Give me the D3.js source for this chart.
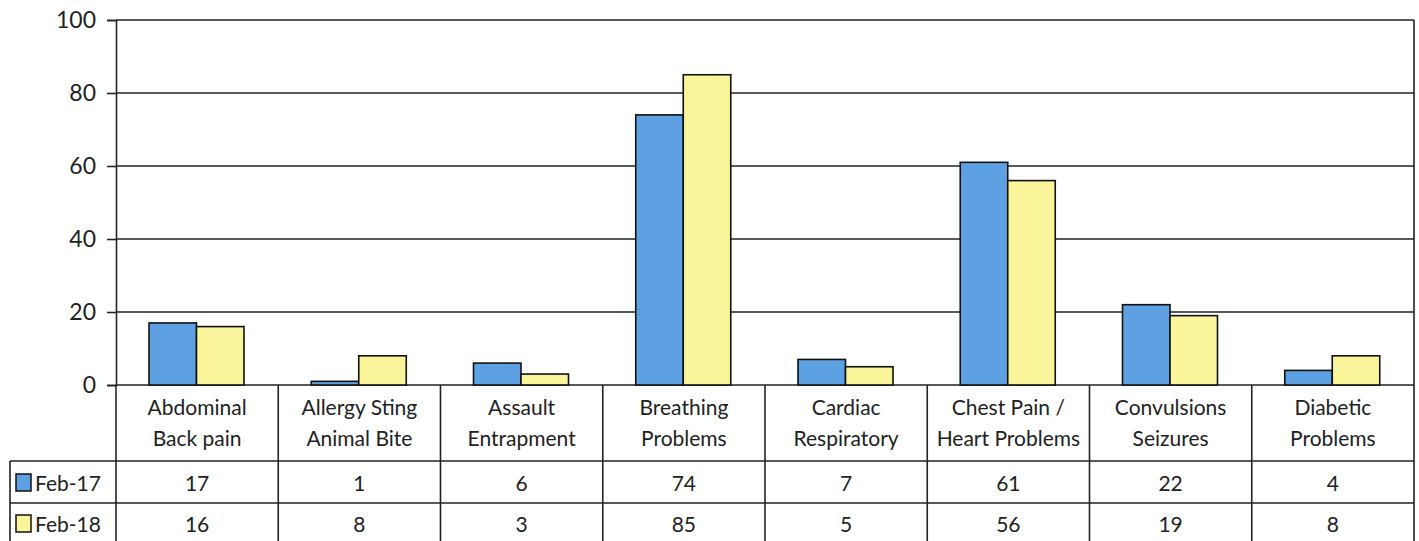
<!DOCTYPE html>
<html><head><meta charset="utf-8">
<script src="https://cdn.jsdelivr.net/npm/d3@7"></script>
<style>body{margin:0;background:#fff}svg{display:block}text{font-family:Lato,"Open Sans",sans-serif;fill:#222}</style>
</head><body><svg id="c" width="1419" height="541"></svg>
<script>
const categories = [["Abdominal","Back pain"],["Allergy Sting","Animal Bite"],["Assault","Entrapment"],["Breathing","Problems"],["Cardiac","Respiratory"],["Chest Pain /","Heart Problems"],["Convulsions","Seizures"],["Diabetic","Problems"]];
const seriesNames = ["Feb-17","Feb-18"];
const feb17 = [17,1,6,74,7,61,22,4];
const feb18 = [16,8,3,85,5,56,19,8];
const yTicks = [0,20,40,60,80,100];
const colors = ["#5ea1e2","#faf59b"];

const series = [feb17, feb18];
const svg = d3.select("#c");
const L = 116, R = 1414, T = 20, B = 385;
const x = d3.scaleBand().domain(d3.range(categories.length)).range([L, R]).padding(0);
const xs = d3.scaleBand().domain(d3.range(series.length)).range([33, 128]).padding(0);
const y = d3.scaleLinear().domain([0, 100]).range([B, T]);

svg.append("g").selectAll("line").data(yTicks).join("line")
  .attr("x1", L).attr("x2", R).attr("y1", d => y(d)).attr("y2", d => y(d))
  .attr("stroke", "#222").attr("stroke-width", 1.6);

series.forEach((s, si) => {
  svg.append("g").selectAll("rect").data(s).join("rect")
    .attr("x", (d, i) => x(i) + xs(si))
    .attr("width", xs.bandwidth())
    .attr("y", d => y(d))
    .attr("height", d => B - y(d))
    .attr("fill", colors[si]).attr("stroke", "#111").attr("stroke-width", 1.6);
});

const ya = svg.append("g").attr("transform", `translate(${L},0)`)
  .call(d3.axisLeft(y).tickValues(yTicks).tickSize(9).tickPadding(11));
ya.select(".domain").attr("stroke", "#222").attr("stroke-width", 1.6);
ya.selectAll(".tick line").attr("stroke", "#222").attr("stroke-width", 1.6);
ya.selectAll(".tick text").style("font-size", "23px").attr("fill", "#222").style("font-family", "Lato,'Open Sans',sans-serif");

svg.append("line").attr("x1", R).attr("x2", R).attr("y1", T).attr("y2", B)
  .attr("stroke", "#222").attr("stroke-width", 1.6);

const rowTop = 461, rowMid = 503, rowBot = 545, tableLeft = 10;
const tg = svg.append("g");
const bounds = d3.range(categories.length + 1).map(i => i < categories.length ? x(i) : R);
tg.selectAll("line.v").data(bounds).join("line").attr("class", "v")
  .attr("x1", d => d).attr("x2", d => d).attr("y1", B).attr("y2", rowBot)
  .attr("stroke", "#222").attr("stroke-width", 1.6);
tg.append("line").attr("x1", tableLeft).attr("x2", tableLeft).attr("y1", rowTop).attr("y2", rowBot)
  .attr("stroke", "#222").attr("stroke-width", 1.6);
[rowTop, rowMid].forEach(yy => tg.append("line").attr("x1", tableLeft).attr("x2", R)
  .attr("y1", yy).attr("y2", yy).attr("stroke", "#222").attr("stroke-width", 1.6));

categories.forEach((c, i) => {
  const cx = x(i) + x.bandwidth() / 2;
  c.forEach((line, li) => {
    tg.append("text").attr("x", cx).attr("y", 415 + li * 31).attr("text-anchor", "middle")
      .style("font-size", "21px").text(line);
  });
});

series.forEach((s, si) => {
  const cy = si === 0 ? 491 : 532;
  s.forEach((v, i) => {
    tg.append("text").attr("x", x(i) + x.bandwidth() / 2).attr("y", cy).attr("text-anchor", "middle")
      .style("font-size", "21px").text(v);
  });
  tg.append("rect").attr("x", 16).attr("y", cy - 17).attr("width", 15).attr("height", 17)
    .attr("fill", colors[si]).attr("stroke", "#111").attr("stroke-width", 1.5);
  tg.append("text").attr("x", 35).attr("y", cy).style("font-size", "21px").text(seriesNames[si]);
});
</script></body></html>
